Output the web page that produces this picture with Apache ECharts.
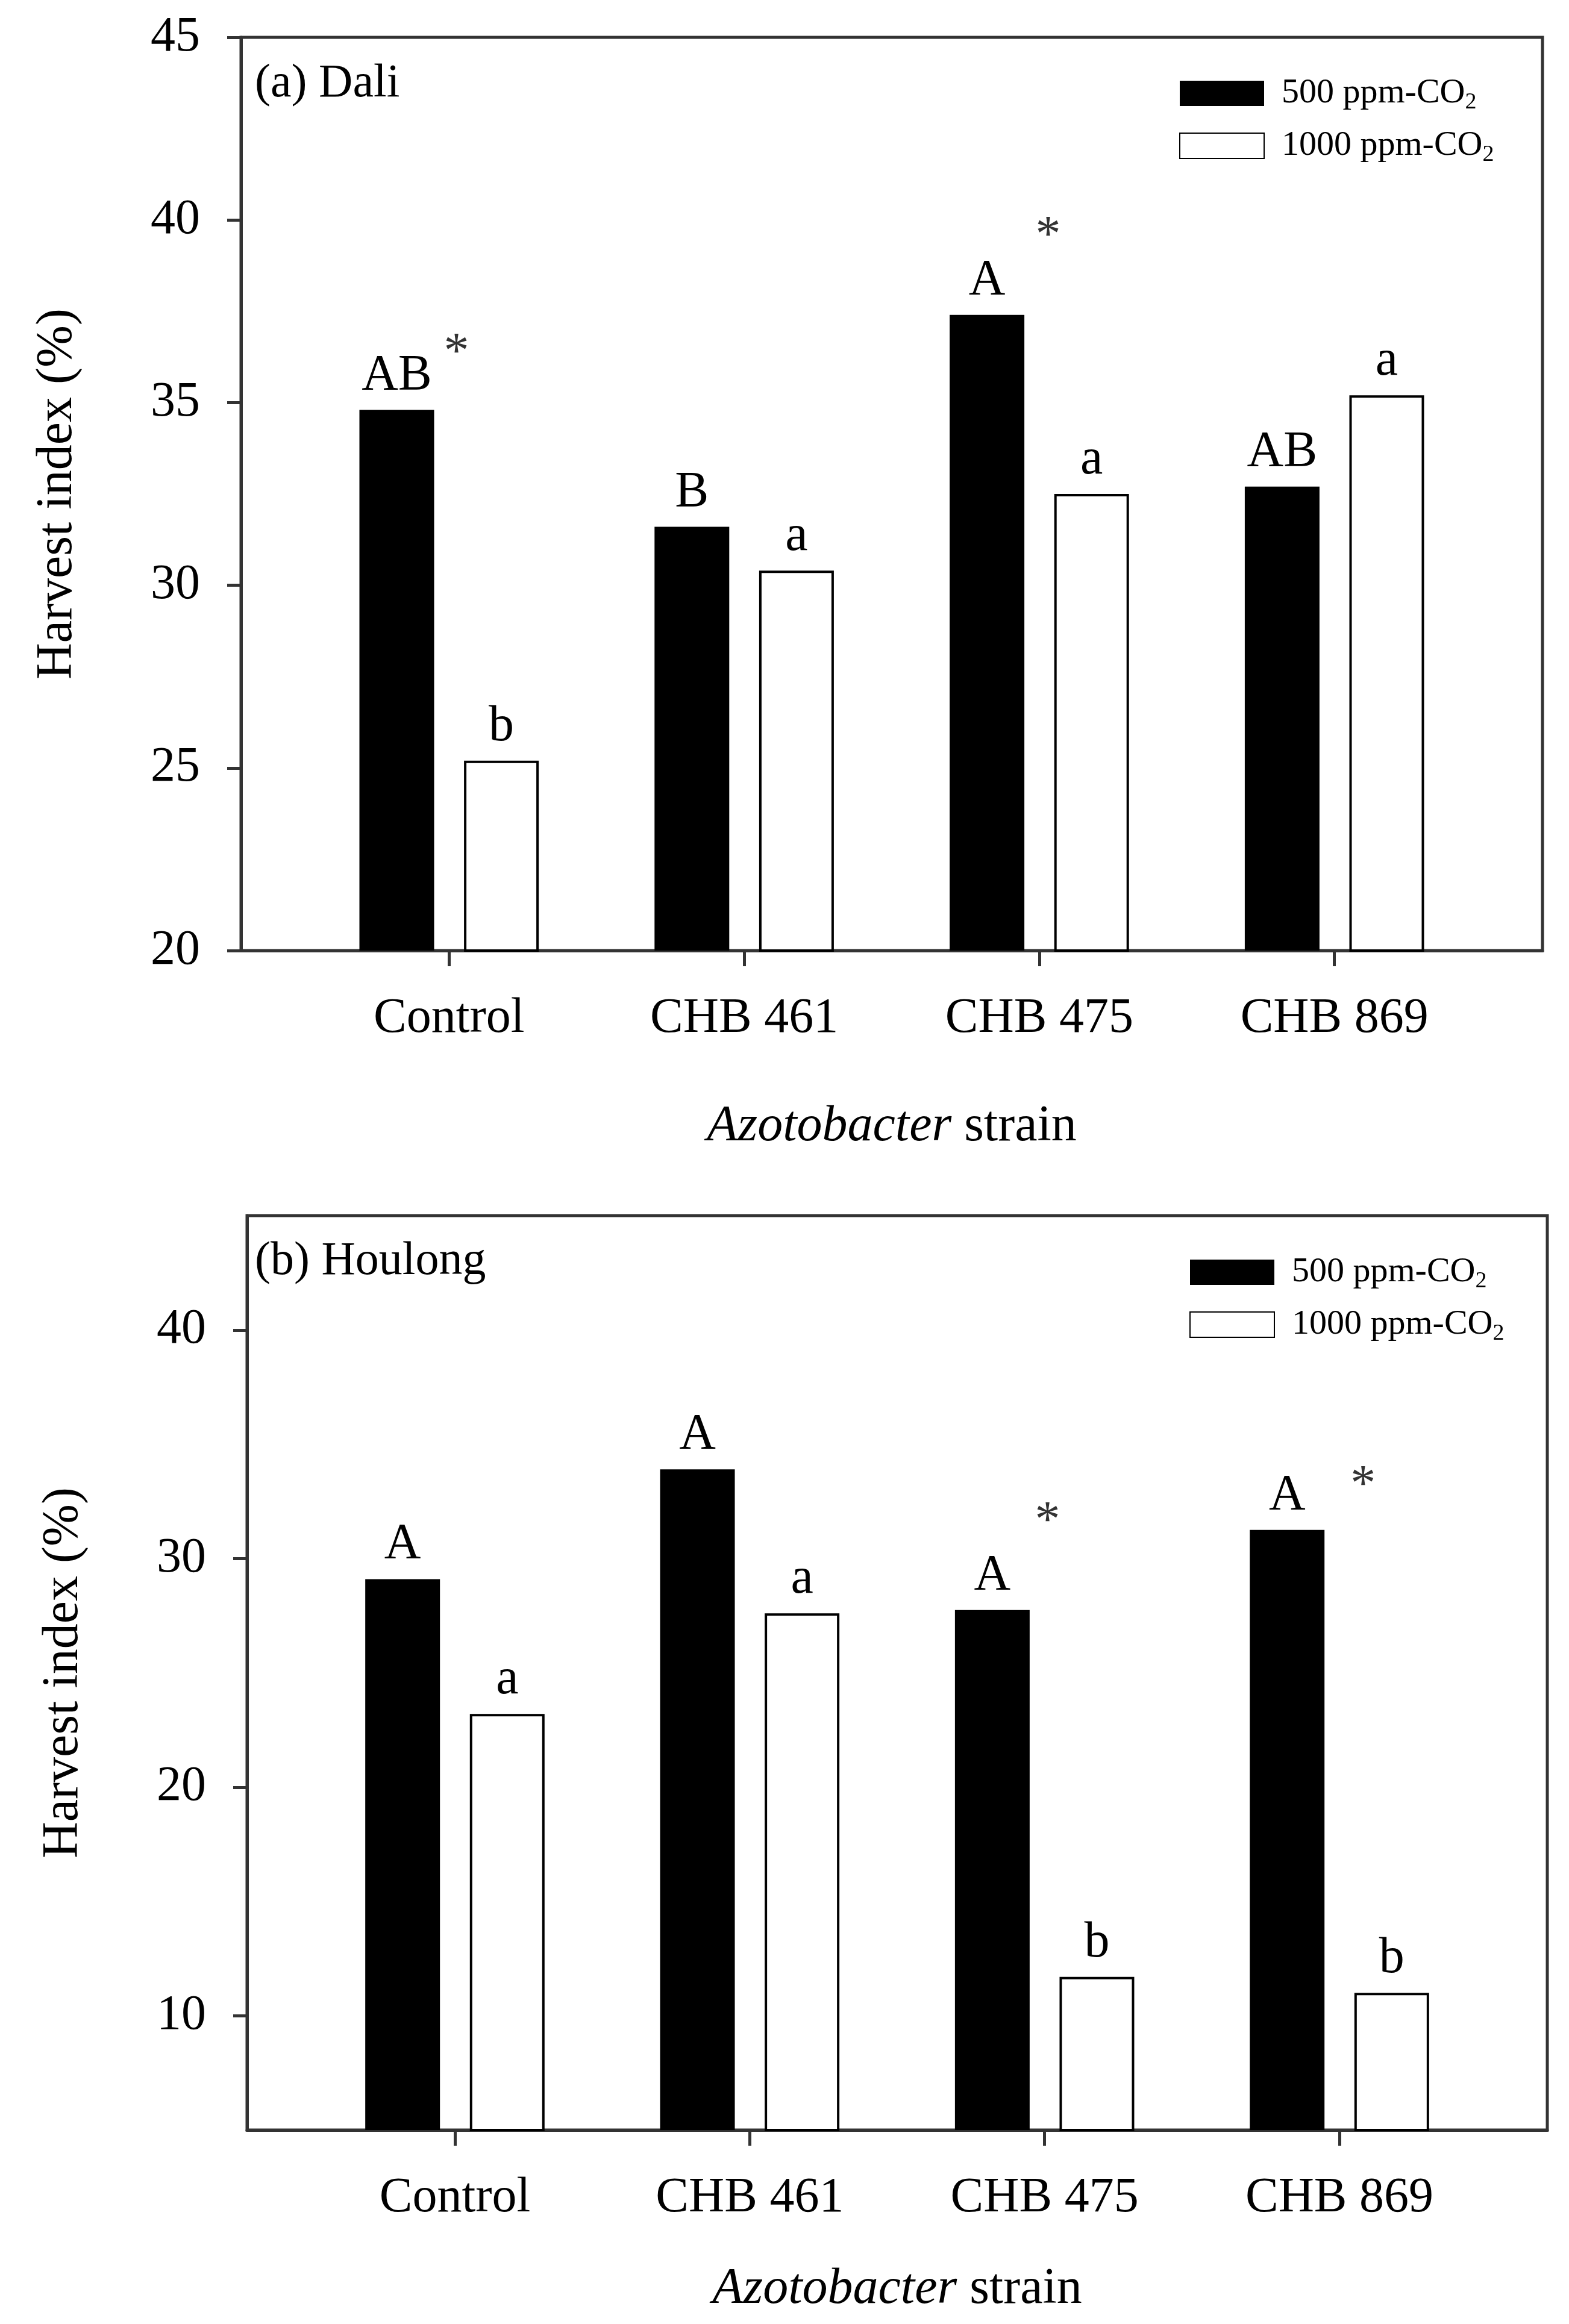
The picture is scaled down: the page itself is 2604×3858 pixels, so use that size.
<!DOCTYPE html>
<html>
<head>
<meta charset="utf-8">
<script src="https://cdn.jsdelivr.net/npm/echarts@6/dist/echarts.min.js"></script>
<style>
  html, body { margin: 0; padding: 0; background: #fff; }
  #chart { width: 2604px; height: 3858px; }
</style>
</head>
<body>
<div id="chart"></div>
<script>
const strains = ["Control", "CHB 461", "CHB 475", "CHB 869"];
const strainPos = [0, 1, 2, 3];

const daliLow = [34.8, 31.6, 37.4, 32.7];
const daliHigh = [25.2, 30.4, 32.5, 35.2];
const daliLowLetters = ["AB", "B", "A", "AB"];
const daliHighLetters = ["b", "a", "a", "a"];
const daliStars = [[0.025, 36.6], [2.03, 39.8]];
const daliTicks = [20, 25, 30, 35, 40, 45];

const houlongLow = [29.1, 33.9, 27.75, 31.25];
const houlongHigh = [23.2, 27.6, 11.7, 11.0];
const houlongLowLetters = ["A", "A", "A", "A"];
const houlongHighLetters = ["a", "a", "b", "b"];
const houlongStars = [[2.01, 32.0], [3.08, 33.6]];
const houlongTicks = [10, 20, 30, 40];

const LOW = "500 ppm-CO2";
const HIGH = "1000 ppm-CO2";
const FONT = "Liberation Serif";
const AXIS = "#333";

const chart = echarts.init(document.getElementById("chart"), null, { renderer: "canvas" });

function xAxis(gridIndex, nameGap) {
  return {
    gridIndex, type: "value", min: -0.705, max: 3.705,
    axisLine: { show: true, onZero: false, lineStyle: { color: AXIS, width: 5 } },
    axisTick: { show: true, customValues: strainPos, length: 26, lineStyle: { color: AXIS, width: 5 } },
    axisLabel: {
      customValues: strainPos, formatter: v => strains[Math.round(v)],
      margin: 72, fontSize: 82, color: "#000", fontFamily: FONT
    },
    splitLine: { show: false },
    name: "{i|Azotobacter} strain", nameLocation: "middle", nameGap,
    nameTextStyle: {
      fontSize: 84, color: "#000", fontFamily: FONT,
      rich: { i: { fontSize: 84, fontStyle: "italic", color: "#000", fontFamily: FONT } }
    }
  };
}

function yAxis(gridIndex, min, max, ticks, extra) {
  return Object.assign({
    gridIndex, type: "value", min, max,
    axisLine: { show: true, onZero: false, lineStyle: { color: AXIS, width: 5 } },
    axisTick: { show: true, customValues: ticks, length: 23, lineStyle: { color: AXIS, width: 5 } },
    axisLabel: { customValues: ticks, margin: 68, fontSize: 82, color: "#000", fontFamily: FONT },
    splitLine: { show: false },
    name: "Harvest index (%)", nameLocation: "middle", nameGap: 262, nameRotate: 90,
    nameTextStyle: { fontSize: 84, color: "#000", fontFamily: FONT }
  }, extra || {});
}

function barSeries(name, idx, values, letters, fill) {
  return {
    type: "bar", name, xAxisIndex: idx, yAxisIndex: idx,
    data: strainPos.map((x, i) => [x, values[i]]),
    barWidth: 124, barGap: "40%",
    itemStyle: fill === "#000"
      ? { color: "#000" }
      : { color: "#fff", borderColor: "#000", borderWidth: 4 },
    label: {
      show: true, position: "top", distance: 14,
      formatter: p => letters[p.dataIndex],
      fontSize: 84, color: "#000", fontFamily: FONT
    },
    emphasis: { disabled: true }
  };
}

function starSeries(idx, stars) {
  return {
    type: "scatter", xAxisIndex: idx, yAxisIndex: idx,
    data: stars, symbol: "circle", symbolSize: 1,
    itemStyle: { color: "rgba(0,0,0,0)" },
    label: {
      show: true, position: "inside", formatter: "*", offset: [0, 17],
      fontSize: 84, color: "#000", fontFamily: FONT
    },
    emphasis: { disabled: true }
  };
}

function legend(left, top) {
  return {
    data: [LOW, HIGH], orient: "vertical", left, top,
    itemWidth: 140, itemHeight: 42, itemGap: 24, icon: "rect",
    formatter: n => "{t|" + n.replace("CO2", "CO") + "}{s|2}",
    textStyle: {
      color: "#000", fontFamily: FONT,
      rich: {
        t: { fontSize: 58, color: "#000", fontFamily: FONT, padding: [0, 0, 0, 24] },
        s: { fontSize: 38, color: "#000", fontFamily: FONT, padding: [30, 0, 0, 0] }
      }
    }
  };
}

const option = {
  backgroundColor: "#fff",
  animation: false,
  title: [
    { text: "(a) Dali", left: 418, top: 96, textStyle: { fontSize: 78, fontWeight: "normal", color: "#000", fontFamily: FONT } },
    { text: "(b) Houlong", left: 418, top: 2051, textStyle: { fontSize: 78, fontWeight: "normal", color: "#000", fontFamily: FONT } }
  ],
  legend: [legend(1952, 121), legend(1969, 2078)],
  grid: [
    { left: 400, top: 62, width: 2160, height: 1516, show: true, borderColor: AXIS, borderWidth: 5 },
    { left: 410, top: 2018, width: 2158, height: 1518, show: true, borderColor: AXIS, borderWidth: 5 }
  ],
  xAxis: [xAxis(0, 251), xAxis(1, 223)],
  yAxis: [
    yAxis(0, 20, 45, daliTicks, { interval: 5 }),
    yAxis(1, 5, 45, houlongTicks)
  ],
  series: [
    barSeries(LOW, 0, daliLow, daliLowLetters, "#000"),
    barSeries(HIGH, 0, daliHigh, daliHighLetters, "#fff"),
    starSeries(0, daliStars),
    barSeries(LOW, 1, houlongLow, houlongLowLetters, "#000"),
    barSeries(HIGH, 1, houlongHigh, houlongHighLetters, "#fff"),
    starSeries(1, houlongStars)
  ]
};

chart.setOption(option);
</script>
</body>
</html>
